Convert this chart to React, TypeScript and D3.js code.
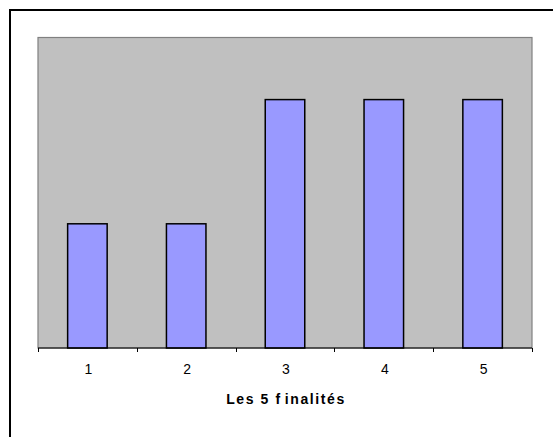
import { useEffect, useRef } from 'react';
import * as d3 from 'd3';

const categories = ['1', '2', '3', '4', '5'];
const values = [1, 1, 2, 2, 2];
const yMax = 2.5;
const axisTitle = ['Les 5 f', 'inalités'];

export default function App() {
  const svgRef = useRef<SVGSVGElement>(null);

  useEffect(() => {
    if (!svgRef.current) return;
    const svg = d3.select(svgRef.current);
    svg.selectAll('*').remove();

    const plot = { left: 38, right: 532, top: 37.5, bottom: 348 };

    // outer chart frame (right/bottom edges fall outside the picture)
    svg.append('rect')
      .attr('x', 10).attr('y', 10)
      .attr('width', 600).attr('height', 500)
      .attr('fill', 'white')
      .attr('stroke', 'black')
      .attr('stroke-width', 2);

    const x = d3.scaleBand<string>()
      .domain(categories)
      .range([plot.left, plot.right])
      .paddingInner(0.6)
      .paddingOuter(0.3);

    const xEdges = d3.scaleLinear()
      .domain([0, categories.length])
      .range([plot.left, plot.right]);

    const y = d3.scaleLinear()
      .domain([0, yMax])
      .range([plot.bottom, plot.top]);

    // plot area
    svg.append('rect')
      .attr('x', plot.left).attr('y', plot.top)
      .attr('width', plot.right - plot.left)
      .attr('height', plot.bottom - plot.top)
      .attr('fill', '#c0c0c0')
      .attr('stroke', '#808080')
      .attr('stroke-width', 1.2);

    // bars
    svg.selectAll('rect.bar')
      .data(values)
      .join('rect')
      .attr('class', 'bar')
      .attr('x', (_, i) => x(categories[i]) as number)
      .attr('width', x.bandwidth())
      .attr('y', d => y(d))
      .attr('height', d => y(0) - y(d))
      .attr('fill', '#9999ff')
      .attr('stroke', 'black')
      .attr('stroke-width', 1.5);

    // category axis
    const axis = svg.append('g');
    axis.append('line')
      .attr('x1', plot.left).attr('x2', plot.right)
      .attr('y1', plot.bottom).attr('y2', plot.bottom)
      .attr('stroke', 'black');
    axis.selectAll('line.tick')
      .data(d3.range(categories.length + 1))
      .join('line')
      .attr('class', 'tick')
      .attr('x1', d => Math.round(xEdges(d)) + 0.5)
      .attr('x2', d => Math.round(xEdges(d)) + 0.5)
      .attr('y1', plot.bottom)
      .attr('y2', plot.bottom + 4)
      .attr('stroke', 'black');
    axis.selectAll('text')
      .data(categories)
      .join('text')
      .attr('x', d => (x(d) as number) + x.bandwidth() / 2 + 1)
      .attr('y', 374)
      .attr('text-anchor', 'middle')
      .attr('font-family', '"Liberation Sans", Arial, sans-serif')
      .attr('font-size', 14)
      .attr('fill', 'black')
      .text(d => d);

    // axis title
    const title = svg.append('text')
      .attr('x', (plot.left + plot.right) / 2 + 1)
      .attr('y', 404)
      .attr('text-anchor', 'middle')
      .attr('font-family', '"Liberation Sans", Arial, sans-serif')
      .attr('font-size', 14)
      .attr('font-weight', 'bold')
      .attr('letter-spacing', 1.6)
      .attr('fill', 'black');
    title.append('tspan').text(axisTitle[0]);
    title.append('tspan').attr('dx', 3).text(axisTitle[1]);
  }, []);

  return (
    <svg
      ref={svgRef}
      width={553}
      height={437}
      style={{ position: 'absolute', left: 0, top: 0, background: 'white' }}
    />
  );
}
